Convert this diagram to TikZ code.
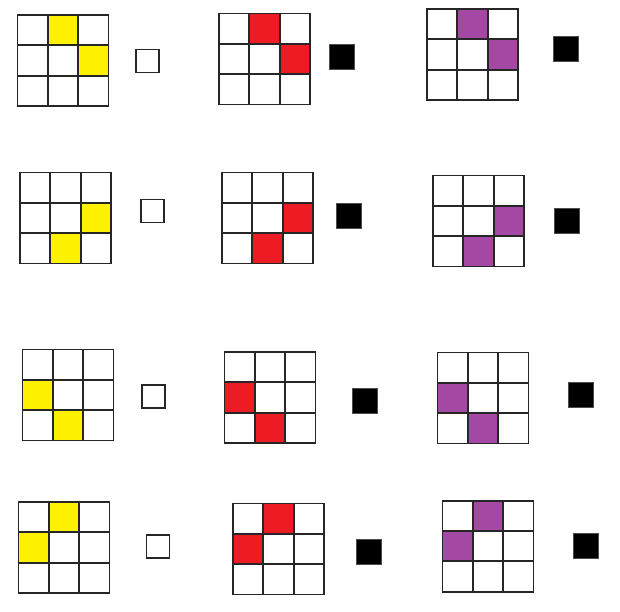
\documentclass[tikz,border=0pt]{standalone}
\definecolor{cyel}{HTML}{FFF200}
\definecolor{cred}{HTML}{ED1C24}
\definecolor{cpur}{HTML}{A349A4}
\definecolor{gline}{HTML}{262626}
\tikzset{
  gl/.style={draw=gline, line width=1.8pt, line cap=rect},
  wsq/.style={draw=gline, fill=white, line width=1.8pt, minimum size=23pt, inner sep=0pt},
  bsq/.style={draw=black!70, fill=black, line width=0.6pt, minimum size=25pt, inner sep=0pt}
}
\newcommand{\mygrid}[4]{%
  \begin{scope}[shift={(#1,#2)}]
    \foreach \c/\r in {#4} \fill[#3] (\c*91/3,\r*91/3) rectangle ++(91/3,91/3);
    \foreach \i in {0,1,2,3} {
      \draw[gl] (\i*91/3,0) -- (\i*91/3,91);
      \draw[gl] (0,\i*91/3) -- (91,\i*91/3);
    }
  \end{scope}}
\begin{document}
\begin{tikzpicture}[x=1pt,y=-1pt]
\useasboundingbox (0,0) rectangle (620,611);
% row 1
\mygrid{17.5}{15}{cyel}{1/0,2/1}
\mygrid{219}{13.5}{cred}{1/0,2/1}
\mygrid{427}{9}{cpur}{1/0,2/1}
\node[wsq] (s1) at (147.5,61) {};
\node[bsq] (s2) at (341.5,57) {};
\node[bsq] (s3) at (566,48.7) {};
% row 2
\mygrid{20}{172.5}{cyel}{2/1,1/2}
\mygrid{222}{172.5}{cred}{2/1,1/2}
\mygrid{433}{175.5}{cpur}{2/1,1/2}
\node[wsq] (s4) at (152.5,211) {};
\node[bsq] (s5) at (349,216) {};
\node[bsq] (s6) at (567,221) {};
% row 3
\mygrid{22.5}{349.5}{cyel}{0/1,1/2}
\mygrid{224.5}{352}{cred}{0/1,1/2}
\mygrid{437.5}{352.5}{cpur}{0/1,1/2}
\node[wsq] (s7) at (153.5,396.3) {};
\node[bsq] (s8) at (364.3,401) {};
\node[bsq] (s9) at (581,395) {};
% row 4
\mygrid{18.5}{502}{cyel}{1/0,0/1}
\mygrid{233}{503.5}{cred}{1/0,0/1}
\mygrid{442.5}{500.7}{cpur}{1/0,0/1}
\node[wsq] (s10) at (158,546.8) {};
\node[bsq] (s11) at (369,551.7) {};
\node[bsq] (s12) at (586,545.5) {};
\end{tikzpicture}
\end{document}
